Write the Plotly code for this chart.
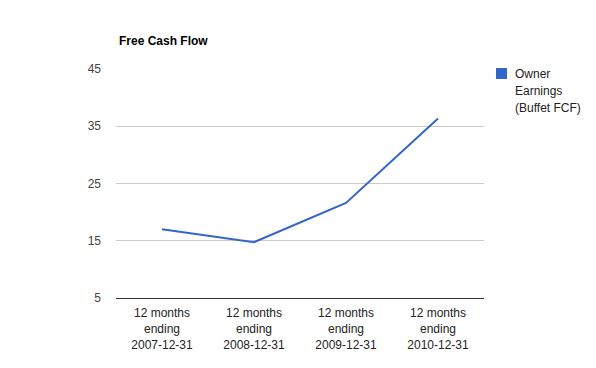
import plotly.graph_objects as go

categories = ["12 months<br>ending<br>2007-12-31", "12 months<br>ending<br>2008-12-31",
              "12 months<br>ending<br>2009-12-31", "12 months<br>ending<br>2010-12-31"]
owner_earnings = [17.0, 14.75, 21.6, 36.35]
series_name = "Owner Earnings (Buffet FCF)"
legend_lines = ["Owner", "Earnings", "(Buffet FCF)"]
y_ticks = [5, 15, 25, 35, 45]
title = "Free Cash Flow"

OFF = 8  # page body margin
W, H = 596 - OFF, 368 - OFF
# target plot area in screenshot pixels: x 116..484, y 69..298
PX0, PX1, PY0, PY1 = 116, 484, 69, 298
L, T = PX0 - OFF, PY0 - OFF
R, B = W - (PX1 - OFF), H - (PY1 - OFF)
color = "#3366cc"
font = "Arial, Liberation Sans, sans-serif"

fig = go.Figure()
fig.add_trace(go.Scatter(x=categories, y=owner_earnings, mode="lines",
                         line=dict(color=color, width=2), name=series_name,
                         showlegend=False))

fig.update_layout(
    width=W, height=H,
    margin=dict(l=L, r=R, t=T, b=B, pad=0),
    paper_bgcolor="white", plot_bgcolor="white",
    font=dict(family=font, size=12, color="#444"),
    xaxis=dict(type="category", range=[-0.5, 3.5], showgrid=False,
               showline=True, linecolor="#333", linewidth=1, ticks="",
               tickfont=dict(size=12, color="#222"), ticklabelstandoff=4,
               zeroline=False, fixedrange=True),
    yaxis=dict(range=[5, 45], tickvals=y_ticks, showgrid=True, gridcolor="#cccccc",
               gridwidth=1, showline=False, zeroline=False, ticks="",
               tickfont=dict(size=12, color="#444"), ticklabelstandoff=14,
               fixedrange=True),
    showlegend=False,
)

pw = PX1 - PX0
ph = PY1 - PY0
def px_x(x):
    return (x - PX0) / pw
def px_y(y):
    return 1 - (y - PY0) / ph

fig.add_annotation(text="<b>" + title + "</b>", xref="paper", yref="paper",
                   x=px_x(117), y=px_y(41), xanchor="left", yanchor="middle",
                   showarrow=False, font=dict(size=12, color="#000", family=font))

fig.add_shape(type="rect", xref="paper", yref="paper",
              x0=px_x(496), x1=px_x(507), y0=px_y(68), y1=px_y(79),
              fillcolor=color, line=dict(width=0))
for i, line in enumerate(legend_lines):
    fig.add_annotation(text=line, xref="paper", yref="paper",
                       x=px_x(513), y=px_y(74 + 17 * i), xanchor="left", yanchor="middle",
                       showarrow=False, font=dict(size=12, color="#222", family=font))

fig.write_html("out.html")
